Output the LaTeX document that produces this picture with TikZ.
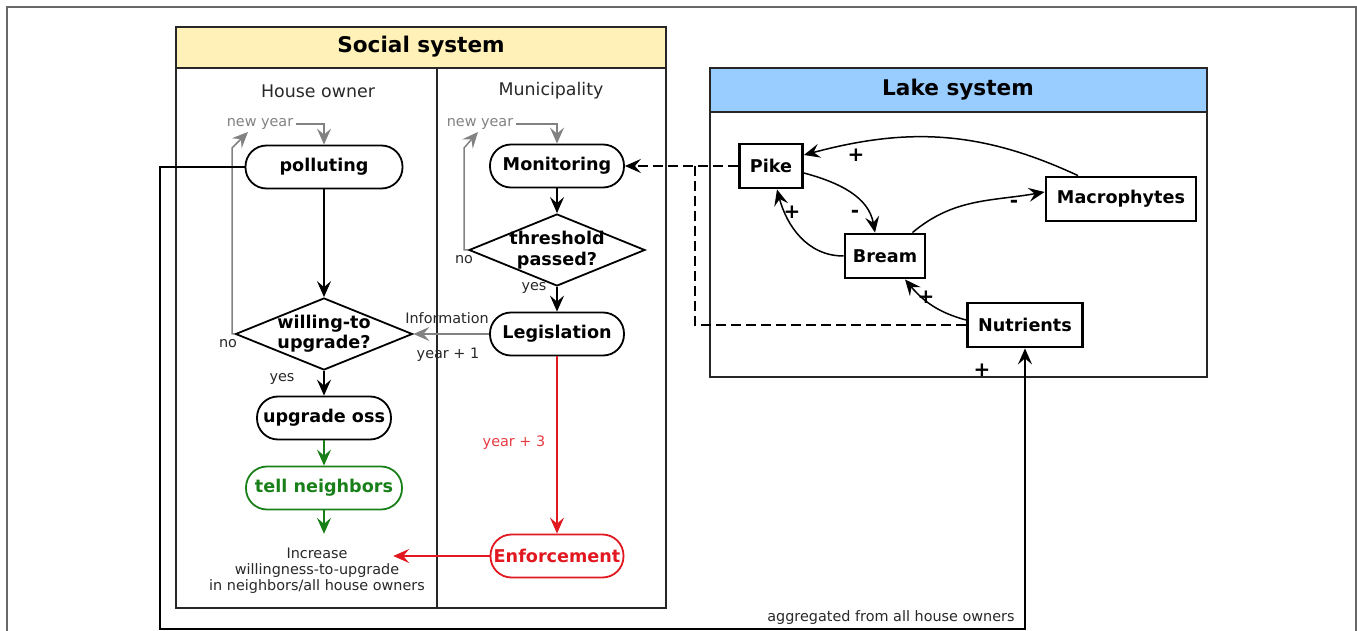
\documentclass[tikz,border=0pt]{standalone}
\usepackage{fontspec}
\setmainfont{DejaVu Sans}
\usepackage{xcolor}
\usepackage{tikz}
\usetikzlibrary{arrows.meta,shapes.geometric}

\definecolor{headyellow}{RGB}{255,241,184}
\definecolor{headblue}{RGB}{153,204,255}
\definecolor{enfred}{RGB}{226,24,32}
\definecolor{tellgreen}{RGB}{25,128,25}
\definecolor{loopgray}{RGB}{130,130,130}
\definecolor{textgray}{RGB}{40,40,40}

\tikzset{
  activity/.style={draw, rectangle, rounded corners=10.5pt, minimum height=21.5pt, inner sep=1pt, line width=0.9pt, fill=white, font=\fontsize{8.8}{10}\selectfont\bfseries},
  decision/.style={draw, diamond, minimum width=88.5pt, minimum height=36pt, inner sep=0pt, line width=0.9pt, fill=white},
  decisiontext/.style={align=center, inner sep=0pt, font=\fontsize{8.8}{10.2}\selectfont\bfseries},
  species/.style={draw, rectangle, minimum height=22pt, inner sep=1pt, line width=1.4pt, fill=white, font=\fontsize{8.8}{10}\selectfont\bfseries},
  systitle/.style={font=\fontsize{10.8}{12}\selectfont\bfseries},
  lanetitle/.style={text=textgray, font=\fontsize{8.7}{10}\selectfont},
  note/.style={inner sep=1pt, font=\fontsize{7.2}{8}\selectfont},
  sign/.style={inner sep=0pt, font=\fontsize{10}{10}\selectfont\bfseries},
  frame/.style={line width=1pt, draw=black!85},
  flow/.style={-{Stealth[length=8pt,width=7pt,inset=3pt]}, line width=0.75pt},
  dashlink/.style={dash pattern=on 5pt off 2.5pt, line width=0.75pt},
}

\begin{document}
\begin{tikzpicture}[x=0.5pt, y=-0.5pt, node distance=42pt]
\useasboundingbox (0,0) rectangle (1357,631);
\draw[loopgray!80!black, line width=0.6pt] (7,631) -- (7,7) -- (1356,7) -- (1356,631);

% social system
\draw[frame, fill=headyellow] (176,27) rectangle (666,68);
\draw[frame] (176,68) rectangle (666,608);
\draw[frame] (437,68) -- (437,608);
\node[systitle] (social) at (421,47) {Social system};
\node[lanetitle] (owner) at (318,91) {House owner};
\node[lanetitle] (munic) at (551,91) {Municipality};

% lake system
\draw[frame, fill=headblue] (710,68) rectangle (1207,112);
\draw[frame] (710,112) rectangle (1207,377);
\node[systitle] (lake) at (958,90) {Lake system};

% house owner
\node[activity, minimum width=78.5pt] (polluting) at (324,167) {polluting};
\node[decision, below of=polluting, node distance=83.5pt] (willing) {};
\node[decisiontext] (willingtext) at (willing) {willing-to\\upgrade?};
\node[activity, minimum width=67pt, below of=willing] (upgrade) {upgrade oss};
\node[activity, minimum width=78pt, text=tellgreen, draw=tellgreen, below of=upgrade, node distance=35pt] (tell) {tell neighbors};
\node[note, align=center, text=textgray] (increase) at (317,571) {Increase\\willingness-to-upgrade\\in neighbors/all house owners};

% municipality
\node[activity, minimum width=67pt] (monitoring) at (557,166) {Monitoring};
\node[decision, minimum width=88pt, below of=monitoring] (threshold) {};
\node[decisiontext] (thresholdtext) at (threshold) {threshold\\passed?};
\node[activity, minimum width=67pt, below of=threshold] (legislation) {Legislation};
\node[activity, minimum width=66.5pt, text=enfred, draw=enfred, below of=legislation, node distance=111pt] (enforcement) {Enforcement};

% lake
\node[species, minimum width=31.5pt] (pike) at (771,166) {Pike};
\node[species, minimum width=40pt] (bream) at (885,256) {Bream};
\node[species, minimum width=75pt] (macro) at (1121,199) {Macrophytes};
\node[species, minimum width=57.5pt] (nutrients) at (1025,325) {Nutrients};

% new year loops
\node[note, text=loopgray] (newyearA) at (260,124) {new year};
\node[note, text=loopgray] (newyearB) at (480,124) {new year};
\coordinate (loopA) at (232,148);
\coordinate (loopB) at (464,148);
\draw[flow, loopgray] (willing.west) -| (loopA) -- ([xshift=-6pt]newyearA.south);
\draw[flow, loopgray] (newyearA.east) -| (polluting.north);
\draw[flow, loopgray] (threshold.west) -| (loopB) -- ([xshift=-1pt]newyearB.south);
\draw[flow, loopgray] (newyearB.east) -| (monitoring.north);

% labels
\node[note, text=textgray] (noA) at (228,344) {no};
\node[note, text=textgray] (yesA) at (282,379) {yes};
\node[note, text=textgray] (noB) at (464,260) {no};
\node[note, text=textgray] (yesB) at (534,288) {yes};
\node[note, text=textgray] (info) at (447,318) {Information};
\node[note, text=textgray] (yearone) at (448,355) {year + 1};
\node[note, text=enfred!85] (yearthree) at (514,443) {year + 3};
\node[note, text=textgray] (aggregated) at (891,618) {aggregated from all house owners};

% social flows
\draw[flow] (polluting) -- (willing);
\draw[flow] (willing) -- (upgrade);
\draw[flow, tellgreen] (upgrade) -- (tell);
\draw[flow, tellgreen, shorten >=6pt] (tell.south) -- (tell.south |- increase.north);
\draw[flow] (monitoring) -- (threshold);
\draw[flow] (threshold) -- (legislation);
\draw[flow, loopgray] (legislation) -- (willing);
\draw[flow, enfred] (legislation) -- (enforcement);
\draw[flow, enfred, shorten >=-17pt] (enforcement.west) -- (enforcement.west -| increase.east);

% lake interactions
\draw[flow] ([xshift=-21.5pt]macro.north) to[out=155, in=15] ([yshift=5.5pt]pike.east);
\draw[flow] ([yshift=-3.5pt]pike.east) to[out=-15, in=100] ([xshift=-5pt]bream.north);
\draw[flow] (bream.west) to[out=180, in=-75] ([xshift=3pt]pike.south);
\draw[flow] ([xshift=-7pt]bream.north east) to[out=40, in=190] ([yshift=3.5pt]macro.west);
\draw[flow] ([yshift=2.5pt]nutrients.west) to[out=165, in=-50] ([xshift=10pt]bream.south);
\node[sign] (plusA) at (856,155) {+};
\node[sign] (minusA) at (855,214) {-};
\node[sign] (plusB) at (792,212) {+};
\node[sign] (minusB) at (1014,204) {-};
\node[sign] (plusC) at (926,297) {+};

% links between the systems
\coordinate (dashjoin) at (695,166);
\coordinate (feedleft) at (160,629);
\draw[flow, dashlink] (pike.west) -- (monitoring.east);
\draw[dashlink] (nutrients.west) -| (dashjoin);
\draw[flow] (polluting.west) -| (feedleft) -| (nutrients.south);
\node[sign] (plusD) at (982,370) {+};
\end{tikzpicture}
\end{document}
